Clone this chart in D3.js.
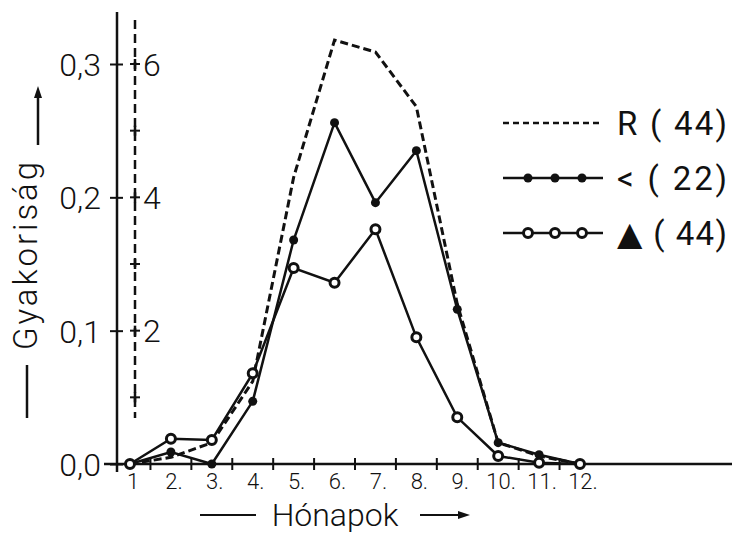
<!DOCTYPE html>
<html>
<head>
<meta charset="utf-8">
<script src="https://cdn.jsdelivr.net/npm/d3@7"></script>
<style>
	body { margin: 0; background: #fff; }
	svg { display: block; }
	text { font-family: Roboto, "DejaVu Sans", sans-serif; fill: #111; }
</style>
</head>
<body>
<div id="chart"></div>
<script>
// months on the x axis
var months = [1, 2, 3, 4, 5, 6, 7, 8, 9, 10, 11, 12];
var monthLabels = ["1", "2.", "3.", "4.", "5.", "6.", "7.", "8.", "9.", "10.", "11.", "12."];

// frequencies per series
var seriesR = [0, 0.005, 0.016, 0.062, 0.215, 0.318, 0.309, 0.268, 0.12, 0.016, 0.006, 0];
var seriesLess = [0, 0.009, 0, 0.047, 0.168, 0.256, 0.196, 0.235, 0.116, 0.016, 0.007, 0];
var seriesTri = [0, 0.019, 0.018, 0.068, 0.147, 0.136, 0.176, 0.095, 0.035, 0.006, 0.001, 0];

var legendLabels = ["R ( 44)", "< ( 22)", "\u25B2 ( 44)"];

var yTicks = [0, 0.1, 0.2, 0.3];
var y2Ticks = [1, 2, 3, 4, 5, 6];
var y2Labels = [2, 4, 6];

var width = 732, height = 537;

var svg = d3.select("#chart").append("svg")
	.attr("width", width)
	.attr("height", height);

var x = d3.scaleLinear().domain([1, 12]).range([130, 580]);
var y = d3.scaleLinear().domain([0, 0.3]).range([464, 64]);
var y2 = d3.scaleLinear().domain([0, 6]).range([464, 64]);

var axisX = 117;
var axis2X = 135;

// main y axis
svg.append("line")
	.attr("x1", axisX).attr("x2", axisX)
	.attr("y1", 12).attr("y2", 472)
	.attr("stroke", "#111").attr("stroke-width", 2.5);

var yAxis = svg.append("g")
	.attr("transform", "translate(" + axisX + ",0)")
	.call(d3.axisLeft(y).tickValues(yTicks).tickSize(7)
		.tickFormat(d => d3.format(".1f")(d).replace(".", ",")));
yAxis.select(".domain").remove();
yAxis.selectAll(".tick line").attr("x1", -7).attr("x2", 6).attr("stroke", "#111").attr("stroke-width", 2);
yAxis.selectAll(".tick text")
	.attr("x", -16).attr("dy", "0.36em")
	.style("font-size", "32px").style("font-weight", 300)
	.style("font-family", "Roboto, sans-serif");

// secondary dashed axis
svg.append("line")
	.attr("x1", axis2X).attr("x2", axis2X)
	.attr("y1", 20).attr("y2", 418)
	.attr("stroke", "#111").attr("stroke-width", 2.5)
	.attr("stroke-dasharray", "9,5");

var crosses = svg.append("g").selectAll("g")
	.data(y2Ticks)
	.enter().append("g")
	.attr("transform", d => "translate(" + axis2X + "," + y2(d) + ")");
crosses.append("line")
	.attr("x1", -5).attr("x2", 5)
	.attr("stroke", "#111").attr("stroke-width", 2);
crosses.append("line")
	.attr("y1", -5).attr("y2", 5)
	.attr("stroke", "#111").attr("stroke-width", 2.5);

svg.append("g").selectAll("text")
	.data(y2Labels)
	.enter().append("text")
	.attr("x", axis2X + 8)
	.attr("y", d => y2(d))
	.attr("dy", "0.36em")
	.style("font-size", "32px").style("font-weight", 300)
	.text(d => d);

// x axis
svg.append("line")
	.attr("x1", 104).attr("x2", width)
	.attr("y1", y(0)).attr("y2", y(0))
	.attr("stroke", "#111").attr("stroke-width", 2.5);

svg.append("g").selectAll("line")
	.data(months.slice(0, 11))
	.enter().append("line")
	.attr("x1", d => x(d + 0.5)).attr("x2", d => x(d + 0.5))
	.attr("y1", y(0) - 6).attr("y2", y(0) + 6)
	.attr("stroke", "#111").attr("stroke-width", 2);

svg.append("g").selectAll("text")
	.data(months)
	.enter().append("text")
	.attr("x", d => x(d) + 3)
	.attr("y", 489)
	.attr("text-anchor", "middle")
	.style("font-size", "22px").style("font-weight", 300)
	.text((d, i) => monthLabels[i]);

// axis titles
svg.append("text")
	.attr("x", 335).attr("y", 526)
	.attr("text-anchor", "middle")
	.style("font-size", "32px").style("font-weight", 300)
	.text("Hónapok");
svg.append("line")
	.attr("x1", 200).attr("x2", 256).attr("y1", 515).attr("y2", 515)
	.attr("stroke", "#111").attr("stroke-width", 2);
svg.append("line")
	.attr("x1", 420).attr("x2", 462).attr("y1", 515).attr("y2", 515)
	.attr("stroke", "#111").attr("stroke-width", 2);
svg.append("path")
	.attr("d", "M470,515 L458,511 L458,519 Z")
	.attr("fill", "#111");

svg.append("text")
	.attr("transform", "translate(37,256) rotate(-90)")
	.attr("text-anchor", "middle")
	.attr("textLength", 188)
	.style("font-size", "33px").style("font-weight", 300)
	.text("Gyakoriság");
svg.append("line")
	.attr("x1", 27).attr("x2", 27).attr("y1", 365).attr("y2", 418)
	.attr("stroke", "#111").attr("stroke-width", 2.5);
svg.append("line")
	.attr("x1", 38).attr("x2", 38).attr("y1", 145).attr("y2", 96)
	.attr("stroke", "#111").attr("stroke-width", 2.5);
svg.append("path")
	.attr("d", "M38,86 L34,98 L42,98 Z")
	.attr("fill", "#111");

// series lines
var line = d3.line()
	.x((d, i) => x(months[i]))
	.y(d => y(d));

svg.append("path")
	.datum(seriesR)
	.attr("d", line)
	.attr("fill", "none")
	.attr("stroke", "#111").attr("stroke-width", 3)
	.attr("stroke-dasharray", "8,4");

svg.append("path")
	.datum(seriesLess)
	.attr("d", line)
	.attr("fill", "none")
	.attr("stroke", "#111").attr("stroke-width", 2.5);

svg.append("path")
	.datum(seriesTri)
	.attr("d", line)
	.attr("fill", "none")
	.attr("stroke", "#111").attr("stroke-width", 2.5);

svg.append("g").selectAll("circle")
	.data(seriesLess)
	.enter().append("circle")
	.attr("cx", (d, i) => x(months[i]))
	.attr("cy", d => y(d))
	.attr("r", 4.5)
	.attr("fill", "#111");

svg.append("g").selectAll("circle")
	.data(seriesTri)
	.enter().append("circle")
	.attr("cx", (d, i) => x(months[i]))
	.attr("cy", d => y(d))
	.attr("r", 4.5)
	.attr("fill", "#fff")
	.attr("stroke", "#111").attr("stroke-width", 3);

// legend
var legendY = [123, 178, 233];
var legend = svg.append("g");

legend.append("line")
	.attr("x1", 503).attr("x2", 603)
	.attr("y1", legendY[0]).attr("y2", legendY[0])
	.attr("stroke", "#111").attr("stroke-width", 2.5)
	.attr("stroke-dasharray", "6,4");

[1, 2].forEach(function(k) {
	legend.append("line")
		.attr("x1", 503).attr("x2", 603)
		.attr("y1", legendY[k]).attr("y2", legendY[k])
		.attr("stroke", "#111").attr("stroke-width", 2.5);
	legend.selectAll(".m" + k)
		.data([528, 555, 582])
		.enter().append("circle")
		.attr("cx", d => d).attr("cy", legendY[k])
		.attr("r", 4.5)
		.attr("fill", k == 1 ? "#111" : "#fff")
		.attr("stroke", "#111").attr("stroke-width", k == 1 ? 0 : 3);
});

legend.selectAll("text")
	.data(legendLabels)
	.enter().append("text")
	.attr("x", 617)
	.attr("y", (d, i) => legendY[i] + 12)
	.attr("textLength", 110)
	.style("font-size", "33px")
	.text(d => d);
</script>
</body>
</html>
